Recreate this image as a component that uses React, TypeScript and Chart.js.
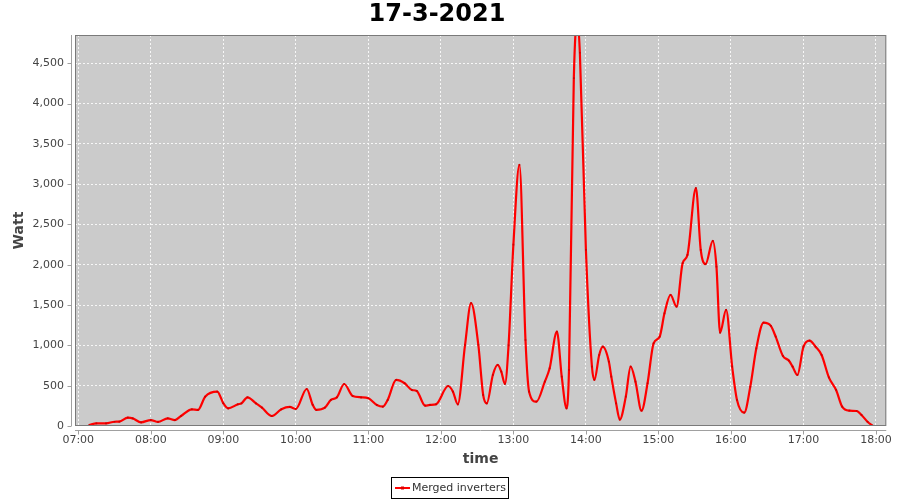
import React, { useEffect, useRef } from 'react';
import { Chart, registerables } from 'chart.js';

Chart.register(...registerables);

const TITLE = '17-3-2021';
const SERIES_NAME = 'Merged inverters';
const X_TITLE = 'time';
const Y_TITLE = 'Watt';

const TIMES = [
  '07:09', '07:15', '07:23', '07:30', '07:34', '07:41', '07:45', '07:52', '08:00', '08:06',
  '08:14', '08:20', '08:25', '08:34', '08:39', '08:45', '08:55', '09:00', '09:04', '09:12',
  '09:15', '09:20', '09:27', '09:32', '09:40', '09:48', '09:55', '10:00', '10:09', '10:14',
  '10:17', '10:24', '10:29', '10:34', '10:40', '10:47', '10:54', '11:00', '11:07', '11:12',
  '11:16', '11:23', '11:30', '11:36', '11:40', '11:47', '11:51', '11:56', '12:06', '12:10',
  '12:14', '12:20', '12:25', '12:31', '12:35', '12:38', '12:43', '12:47', '12:50', '12:53',
  '12:56', '13:00', '13:05', '13:10', '13:13', '13:19', '13:26', '13:30', '13:36', '13:40',
  '13:44', '13:46', '13:50', '13:53', '13:55', '14:00', '14:05', '14:07', '14:11', '14:14',
  '14:19', '14:21', '14:25', '14:28', '14:33', '14:37', '14:41', '14:46', '14:51', '14:56',
  '15:01', '15:05', '15:10', '15:15', '15:20', '15:24', '15:31', '15:35', '15:39', '15:45',
  '15:48', '15:51', '15:56', '16:01', '16:05', '16:11', '16:16', '16:21', '16:27', '16:33',
  '16:37', '16:43', '16:48', '16:51', '16:55', '17:00', '17:05', '17:10', '17:15', '17:21',
  '17:27', '17:32', '17:38', '17:44', '17:48', '17:53', '17:57',
];

const WATTS = [
  12, 33, 33, 53, 55, 103, 95, 46, 74, 50,
  95, 74, 124, 207, 199, 364, 426, 282, 219, 269,
  281, 356, 281, 227, 124, 207, 236, 211, 459, 261,
  199, 227, 323, 356, 521, 372, 356, 344, 261, 240,
  323, 571, 530, 447, 435, 252, 261, 269, 496, 426,
  269, 1005, 1523, 1005, 385, 281, 633, 757, 674, 521,
  1000, 2250, 3239, 1067, 426, 302, 550, 716, 1170, 612,
  219, 695, 4315, 5050, 4630, 2184, 736, 571, 881, 984,
  798, 612, 281, 80, 364, 736, 550, 190, 530, 1026,
  1108, 1398, 1626, 1481, 2019, 2122, 2950, 2184, 2007, 2296,
  1977, 1158, 1440, 736, 323, 165, 488, 964, 1282, 1241,
  1108, 869, 810, 736, 633, 984, 1059, 984, 881, 604,
  447, 240, 190, 186, 137, 53, 4,
];

const HOUR_TICKS = ['07:00', '08:00', '09:00', '10:00', '11:00', '12:00', '13:00', '14:00', '15:00', '16:00', '17:00', '18:00'];
const Y_TICKS = [0, 500, 1000, 1500, 2000, 2500, 3000, 3500, 4000, 4500];
const X_RANGE = ['06:57.3', '18:08.5'];
const Y_MAX = 4850;

const toMin = (s: string) => {
  const [h, m] = s.split(':').map(Number);
  return h * 60 + m;
};
const fmtTime = (v: number) => {
  const h = Math.floor(v / 60);
  const m = Math.round(v - h * 60);
  return String(h).padStart(2, '0') + ':' + String(m).padStart(2, '0');
};

const FONT = '"DejaVu Sans", sans-serif';

const decor = {
  id: 'decor',
  beforeDraw(chart: any) {
    const { ctx, chartArea: a } = chart;
    ctx.save();
    ctx.fillStyle = '#ffffff';
    ctx.fillRect(0, 0, chart.width, chart.height);
    ctx.fillStyle = '#cbcbcb';
    ctx.fillRect(a.left, a.top, a.right - a.left, a.bottom - a.top);
    ctx.restore();
  },
  afterDraw(chart: any) {
    const { ctx, chartArea: a, scales } = chart;
    ctx.save();
    // plot outline
    ctx.strokeStyle = '#7a7a7a';
    ctx.lineWidth = 1;
    ctx.strokeRect(a.left + 0.5, a.top + 0.5, a.right - a.left - 1, a.bottom - a.top - 1);
    // axis lines
    ctx.strokeStyle = '#a0a0a0';
    ctx.beginPath();
    ctx.moveTo(71.5, a.top);
    ctx.lineTo(71.5, a.bottom);
    ctx.moveTo(a.left, a.bottom + 4.5);
    ctx.lineTo(a.right, a.bottom + 4.5);
    for (const t of Y_TICKS) {
      const y = Math.round(scales.y.getPixelForValue(t)) + 0.5;
      ctx.moveTo(67.5, y);
      ctx.lineTo(71.5, y);
    }
    for (const t of HOUR_TICKS) {
      const x = Math.round(scales.x.getPixelForValue(toMin(t))) + 0.5;
      ctx.moveTo(x, a.bottom + 4.5);
      ctx.lineTo(x, a.bottom + 8.5);
    }
    ctx.stroke();
    // title
    ctx.fillStyle = '#000000';
    ctx.font = 'bold 24px ' + FONT;
    ctx.textAlign = 'center';
    ctx.textBaseline = 'middle';
    ctx.fillText(TITLE, 437, 15);
    // legend
    ctx.strokeStyle = '#000000';
    ctx.strokeRect(391.5, 477.5, 117, 21);
    ctx.strokeStyle = '#ff0000';
    ctx.lineWidth = 2;
    ctx.beginPath();
    ctx.moveTo(395, 488);
    ctx.lineTo(410, 488);
    ctx.stroke();
    ctx.fillStyle = '#dd0000';
    ctx.fillRect(401, 486.5, 3, 3);
    ctx.fillStyle = '#333333';
    ctx.font = '11px ' + FONT;
    ctx.textAlign = 'left';
    ctx.fillText(SERIES_NAME, 412, 488.5);
    ctx.restore();
  },
};

export default function App() {
  const ref = useRef<HTMLCanvasElement | null>(null);
  useEffect(() => {
    document.body.style.margin = '0';
    const canvas = ref.current;
    if (!canvas) return;
    const [xMinS, xMaxS] = X_RANGE;
    const xMin = toMin(xMinS.split('.')[0]) + Number('0.' + xMinS.split('.')[1]);
    const xMax = toMin(xMaxS.split('.')[0]) + Number('0.' + xMaxS.split('.')[1]);
    const points = TIMES.map((t, i) => ({ x: toMin(t), y: WATTS[i] }));
    const chart = new Chart(canvas, {
      type: 'line',
      data: {
        datasets: [
          {
            label: SERIES_NAME,
            data: points,
            borderColor: '#ff0000',
            borderWidth: 2.2,
            backgroundColor: '#ff0000',
            pointRadius: 1.2,
            pointStyle: 'rect',
            pointBackgroundColor: '#cc0000',
            pointBorderWidth: 0,
            cubicInterpolationMode: 'monotone',
            fill: false,
          },
        ],
      },
      plugins: [decor],
      options: {
        animation: false,
        responsive: false,
        devicePixelRatio: 1,
        layout: { padding: { left: 0, right: 12, top: 35, bottom: 32 } },
        plugins: {
          legend: { display: false },
          title: { display: false },
          tooltip: { enabled: false },
        },
        scales: {
          x: {
            type: 'linear',
            min: xMin,
            max: xMax,
            afterBuildTicks: (s: any) => {
              s.ticks = HOUR_TICKS.map((t) => ({ value: toMin(t) }));
            },
            afterFit: (s: any) => {
              s.height = 42;
            },
            ticks: {
              autoSkip: false,
              maxRotation: 0,
              padding: 8,
              color: '#444444',
              font: { family: FONT, size: 11 },
              callback: (v: any) => fmtTime(Number(v)),
            },
            grid: {
              color: 'rgba(255,255,255,0.85)',
              drawTicks: false,
              lineWidth: 1,
            },
            border: { display: false, dash: [2, 2] },
            title: {
              display: true,
              text: X_TITLE,
              color: '#444444',
              font: { family: FONT, size: 14, weight: 'bold' },
              padding: { top: 0, bottom: 0 },
            },
          },
          y: {
            type: 'linear',
            min: 0,
            max: Y_MAX,
            afterBuildTicks: (s: any) => {
              s.ticks = Y_TICKS.map((v) => ({ value: v }));
            },
            afterFit: (s: any) => {
              s.width = 75;
            },
            ticks: {
              padding: 11,
              color: '#444444',
              font: { family: FONT, size: 11 },
              callback: (v: any) => Number(v).toLocaleString('en-US'),
            },
            grid: {
              color: 'rgba(255,255,255,0.85)',
              drawTicks: false,
              lineWidth: 1,
            },
            border: { display: false, dash: [2, 2] },
            title: {
              display: true,
              text: Y_TITLE,
              color: '#444444',
              font: { family: FONT, size: 14, weight: 'bold' },
              padding: { top: 11, bottom: 0 },
            },
          },
        },
      },
    });
    return () => chart.destroy();
  }, []);
  return (
    <div style={{ width: 900, height: 500 }}>
      <canvas ref={ref} width={900} height={500} style={{ display: 'block' }} />
    </div>
  );
}
